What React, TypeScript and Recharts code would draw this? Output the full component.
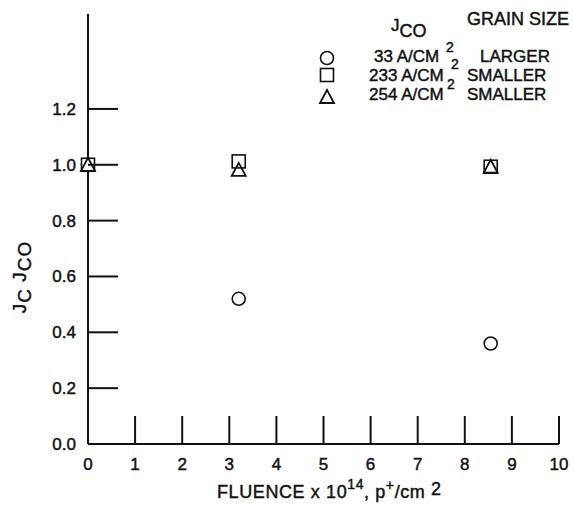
import React from "react";
import { ScatterChart, Scatter, XAxis, YAxis } from "recharts";

// fluence (x 10^14 p+/cm2) for each measurement
const fluence = [0, 3.2, 8.55];
// Jc / Jco for each sample
const larger33 = [1.0, 0.52, 0.36];
const smaller233 = [1.0, 1.012, 0.993];
const smaller254 = [1.0, 0.982, 0.993];

const xTicks = [0, 1, 2, 3, 4, 5, 6, 7, 8, 9, 10];
const yTicks = [0, 0.2, 0.4, 0.6, 0.8, 1.0, 1.2];

const W = 573;
const H = 507;
const PLOT_LEFT = 88;
const PLOT_BOTTOM = 444;
const INK = "#111";
const FONT = "'Liberation Sans', Arial, sans-serif";
const TEXT_STROKE = 0.45;

const toPoints = (ys: number[]) => fluence.map((x, i) => ({ x, y: ys[i] }));

const CircleMark = (p: any) => (
  <circle cx={p.cx} cy={p.cy} r={6.5} fill="#fff" stroke={INK} strokeWidth={1.6} />
);
const SquareMark = (p: any) => (
  <rect x={p.cx - 6.5} y={p.cy - 6.5} width={13} height={13} fill="#fff" stroke={INK} strokeWidth={1.6} />
);
const TriangleMark = (p: any) => (
  <path
    d={`M${p.cx},${p.cy - 7} L${p.cx + 7},${p.cy + 6} L${p.cx - 7},${p.cy + 6} Z`}
    fill="none"
    stroke={INK}
    strokeWidth={1.8}
  />
);

const XTick = (p: any) => {
  const v = p.payload.value;
  return (
    <g>
      {v !== 0 && (
        <line x1={p.x} x2={p.x} y1={PLOT_BOTTOM} y2={PLOT_BOTTOM - 28} stroke={INK} strokeWidth={2} />
      )}
      <text
        x={p.x}
        y={PLOT_BOTTOM + 26}
        textAnchor="middle"
        fontSize={17}
        fill={INK}
        stroke={INK}
        strokeWidth={TEXT_STROKE}
        fontFamily={FONT}
      >
        {v}
      </text>
    </g>
  );
};

const YTick = (p: any) => {
  const v = p.payload.value;
  return (
    <g>
      {v !== 0 && (
        <line x1={PLOT_LEFT} x2={PLOT_LEFT + 30} y1={p.y} y2={p.y} stroke={INK} strokeWidth={2} />
      )}
      <text
        x={76}
        y={p.y + 6}
        textAnchor="end"
        fontSize={17}
        fill={INK}
        stroke={INK}
        strokeWidth={TEXT_STROKE}
        fontFamily={FONT}
      >
        {v.toFixed(1)}
      </text>
    </g>
  );
};

export default function App() {
  return (
    <div style={{ position: "absolute", left: 0, top: 0, width: W, height: H, background: "#fff" }}>
      <ScatterChart width={W} height={H} margin={{ top: 14, right: 14, left: 28, bottom: 33 }}>
        <XAxis
          type="number"
          dataKey="x"
          domain={[0, 10]}
          ticks={xTicks}
          height={30}
          tickLine={false}
          tickSize={0}
          axisLine={{ stroke: INK, strokeWidth: 2 }}
          tick={XTick}
          interval={0}
        />
        <YAxis
          type="number"
          dataKey="y"
          domain={[0, 1.54]}
          ticks={yTicks}
          width={60}
          tickLine={false}
          tickSize={0}
          axisLine={{ stroke: INK, strokeWidth: 2 }}
          tick={YTick}
          interval={0}
          allowDataOverflow
        />
        <Scatter data={toPoints(larger33)} shape={CircleMark} isAnimationActive={false} />
        <Scatter data={toPoints(smaller233)} shape={SquareMark} isAnimationActive={false} />
        <Scatter data={toPoints(smaller254)} shape={TriangleMark} isAnimationActive={false} />
      </ScatterChart>
      <svg
        width={W}
        height={H}
        style={{ position: "absolute", left: 0, top: 0, pointerEvents: "none" }}
        fontFamily={FONT}
        fill={INK}
      >
        <g stroke={INK} strokeWidth={TEXT_STROKE}>
          {/* y axis title */}
          <text transform="translate(26,277) rotate(-90)" textAnchor="middle" fontSize={19} letterSpacing={1}>
            <tspan>J</tspan>
            <tspan dy={5}>C</tspan>
            <tspan dy={-5}> J</tspan>
            <tspan dy={5}>CO</tspan>
          </text>
          {/* x axis title */}
          <text x={217} y={498} fontSize={18} letterSpacing={0.6}>
            <tspan>FLUENCE x 10</tspan>
            <tspan dy={-9} fontSize={14}>14</tspan>
            <tspan dy={9}>, p</tspan>
            <tspan dy={-8} fontSize={14}>+</tspan>
            <tspan dy={8}>/cm</tspan>
            <tspan dy={-3}> 2</tspan>
          </text>
          {/* legend */}
          <text x={391} y={31} fontSize={17}>
            <tspan>J</tspan>
            <tspan dy={6} fontSize={18}>CO</tspan>
          </text>
          <text x={467} y={25} fontSize={18}>GRAIN SIZE</text>

          <text x={374} y={62} fontSize={17}>33 A/CM</text>
          <text x={446} y={52} fontSize={14}>2</text>
          <text x={480} y={62} fontSize={17}>LARGER</text>

          <text x={369} y={81} fontSize={17}>233 A/CM</text>
          <text x={451} y={69} fontSize={14}>2</text>
          <text x={467} y={81} fontSize={17}>SMALLER</text>

          <text x={369} y={100} fontSize={17}>254 A/CM</text>
          <text x={447} y={89} fontSize={14}>2</text>
          <text x={467} y={100} fontSize={17}>SMALLER</text>
        </g>

        <circle cx={327} cy={58} r={6.5} fill="#fff" stroke={INK} strokeWidth={1.6} />
        <rect x={320.5} y={68.5} width={13} height={13} fill="#fff" stroke={INK} strokeWidth={1.6} />
        <path d="M327,90 L334,103 L320,103 Z" fill="none" stroke={INK} strokeWidth={1.8} />
      </svg>
    </div>
  );
}
